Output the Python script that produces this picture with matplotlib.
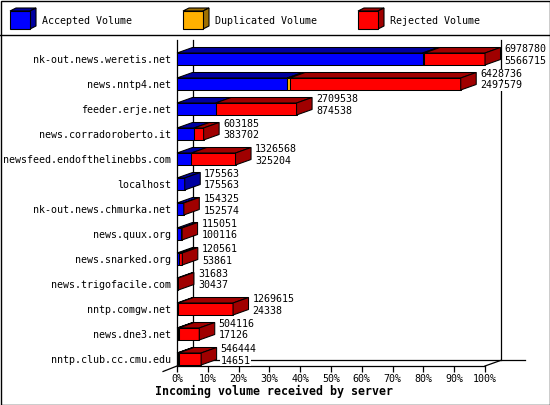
import matplotlib
matplotlib.use("Agg")
import matplotlib.pyplot as plt
from matplotlib.patches import Polygon, Rectangle

# data (bytes per server)
servers = [
    "nk-out.news.weretis.net",
    "news.nntp4.net",
    "feeder.erje.net",
    "news.corradoroberto.it",
    "newsfeed.endofthelinebbs.com",
    "localhost",
    "nk-out.news.chmurka.net",
    "news.quux.org",
    "news.snarked.org",
    "news.trigofacile.com",
    "nntp.comgw.net",
    "news.dne3.net",
    "nntp.club.cc.cmu.edu",
]
total = [6978780, 6428736, 2709538, 603185, 1326568, 175563, 154325,
         115051, 120561, 31683, 1269615, 504116, 546444]
accepted = [5566715, 2497579, 874538, 383702, 325204, 175563, 152574,
            100116, 53861, 30437, 24338, 17126, 14651]
# duplicates are not labelled, estimated from the thin orange slivers
duplicated = [40000, 55000, 0, 0, 0, 0, 0, 0, 0, 0, 0, 20000, 20000]
rejected = [t - a - d for t, a, d in zip(total, accepted, duplicated)]

series_names = ["Accepted Volume", "Duplicated Volume", "Rejected Volume"]
front_colors = ["#0000ff", "#ffb000", "#ff0000"]
dark_colors = ["#0000a0", "#a07000", "#a00000"]
tick_pcts = list(range(0, 101, 10))

W, H_PX = 550, 405
MONO = "DejaVu Sans Mono"
FS = 7.2

fig = plt.figure(figsize=(W / 100, H_PX / 100), dpi=100)
fig.patch.set_facecolor("white")

# full-figure pixel axes for frame and legend
bg = fig.add_axes([0, 0, 1, 1])
bg.set_xlim(0, W)
bg.set_ylim(H_PX, 0)
bg.axis("off")
bg.add_patch(Rectangle((0.5, 0.5), W - 1, H_PX - 1, fill=False, ec="black", lw=1.0))
bg.plot([0, W], [35, 35], color="black", lw=1.0)

leg_x = [10, 183, 358]
for lx, name, fc, dc in zip(leg_x, series_names, front_colors, dark_colors):
    bw, bh, ddx, ddy = 20, 18, 6, -3
    top = 11
    bg.add_patch(Polygon([(lx, top), (lx + bw, top), (lx + bw + ddx, top + ddy), (lx + ddx, top + ddy)],
                         fc=dc, ec="black", lw=0.8))
    bg.add_patch(Polygon([(lx + bw, top), (lx + bw, top + bh), (lx + bw + ddx, top + bh + ddy),
                          (lx + bw + ddx, top + ddy)], fc=dc, ec="black", lw=0.8))
    bg.add_patch(Rectangle((lx, top), bw, bh, fc=fc, ec="black", lw=0.8))
    bg.text(lx + 32, 20.5, name, family=MONO, fontsize=FS, va="center", ha="left")

# main chart axes: x in percent of biggest total, y in row index
X0, X1, Y_TOP, Y_BOT = 177, 485, 40, 366
ax = fig.add_axes([X0 / W, (H_PX - Y_BOT) / H_PX, (X1 - X0) / W, (Y_BOT - Y_TOP) / H_PX])
ax.patch.set_alpha(0)
ROW_PX = 25
y_lo = (Y_BOT - 59) / ROW_PX
y_hi = (Y_TOP - 59) / ROW_PX
ax.set_xlim(0, 100)
ax.set_ylim(y_lo, y_hi)

DX = 15.5 / (X1 - X0) * 100
DY = -5.5 / ROW_PX
HALF = 6 / ROW_PX
floor_back = y_lo + DY

line_kw = dict(color="black", lw=0.9, clip_on=False, zorder=1)
ax.plot([DX, DX], [y_hi, floor_back], **line_kw)
ax.plot([100 + DX, 100 + DX], [y_hi, floor_back], **line_kw)
ax.plot([DX, 100 + DX + 24 / (X1 - X0) * 100], [floor_back, floor_back], **line_kw)
ax.plot([100, 100 + DX], [y_lo, floor_back], **line_kw)
ax.plot([-DX * 0.9, 0], [y_lo - DY, y_lo], **line_kw)

scale = 100.0 / max(total)
edge = dict(ec="black", lw=0.75, joinstyle="miter", zorder=3, clip_on=False)
for row, name in enumerate(servers):
    segs = zip([accepted[row], duplicated[row], rejected[row]], front_colors, dark_colors)
    x0 = 0.0
    last_dark = None
    for value, fc, dc in segs:
        if value <= 0:
            continue
        x1 = x0 + value * scale
        t = row - HALF
        ax.add_patch(Polygon([(x0, t), (x1, t), (x1 + DX, t + DY), (x0 + DX, t + DY)], fc=dc, **edge))
        ax.add_patch(Polygon([(x0, t), (x1, t), (x1, row + HALF), (x0, row + HALF)], fc=fc, **edge))
        x0 = x1
        last_dark = dc
    ax.add_patch(Polygon([(x0, row - HALF), (x0, row + HALF), (x0 + DX, row + HALF + DY),
                          (x0 + DX, row - HALF + DY)], fc=last_dark, **edge))
    lab_x = x0 + DX + 4 / (X1 - X0) * 100
    box = dict(fc="white", ec="none", pad=0.3)
    ax.text(lab_x, row - 0.4, str(total[row]), family=MONO, fontsize=FS,
            ha="left", va="center", bbox=box, zorder=4)
    ax.text(lab_x, row + 0.06, str(accepted[row]), family=MONO, fontsize=FS,
            ha="left", va="center", bbox=box, zorder=4)

ax.set_yticks(range(len(servers)))
ax.set_yticklabels(servers, family=MONO, fontsize=FS)
ax.tick_params(axis="y", length=0, pad=4)
ax.set_xticks(tick_pcts)
ax.set_xticklabels([f"{p}%" for p in tick_pcts], family=MONO, fontsize=FS)
ax.tick_params(axis="x", length=4, width=0.9, pad=1.5, direction="out")
for side in ["top", "right"]:
    ax.spines[side].set_visible(False)
for side in ["left", "bottom"]:
    ax.spines[side].set_linewidth(0.9)

fig.text(274 / W, 1 - 391 / H_PX, "Incoming volume received by server", family=MONO,
         fontweight="bold", fontsize=8.4, ha="center", va="center")

fig.savefig("out.png", dpi=100)
